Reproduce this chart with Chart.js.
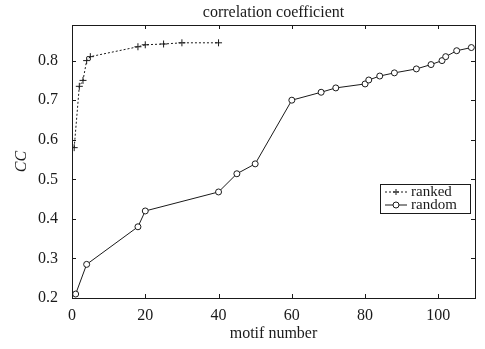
<!DOCTYPE html>
<html>
<head>
<meta charset="utf-8">
<script src="https://cdn.jsdelivr.net/npm/chart.js@4.4.1/dist/chart.umd.min.js"></script>
<style>
  html, body { margin: 0; padding: 0; background: #fff; }
  #wrap { width: 485px; height: 349px; }
</style>
</head>
<body>
<div id="wrap"><canvas id="ccChart" width="485" height="349"></canvas></div>
<script>
// data
const rankedX = [0.6, 2, 3, 4, 5, 18, 20, 25, 30, 40];
const rankedY = [0.58, 0.735, 0.75, 0.8, 0.81, 0.835, 0.84, 0.842, 0.845, 0.845];
const randomX = [1, 4, 18, 20, 40, 45, 50, 60, 68, 72, 80, 81, 84, 88, 94, 98, 101, 102, 105, 109];
const randomY = [0.21, 0.285, 0.38, 0.42, 0.468, 0.514, 0.539, 0.7, 0.72, 0.731, 0.741, 0.751,
  0.761, 0.769, 0.779, 0.79, 0.8, 0.81, 0.825, 0.833];
const xTicks = [0, 20, 40, 60, 80, 100];
const yTicks = [0.2, 0.3, 0.4, 0.5, 0.6, 0.7, 0.8];

const serif = "'Liberation Serif', 'DejaVu Serif', serif";
const ink = "#1a1a1a";

function toPoints(xs, ys) {
  return xs.map((x, i) => ({ x: x, y: ys[i] }));
}

// matlab style box, inward ticks, title and legend
const framePlugin = {
  id: "frame",
  afterDraw(chart) {
    const { ctx, chartArea: a } = chart;
    const xs = chart.scales.x;
    const ys = chart.scales.y;
    ctx.save();
    ctx.strokeStyle = ink;
    ctx.lineWidth = 1;
    ctx.strokeRect(a.left + 0.5, a.top + 0.5, a.right - a.left, a.bottom - a.top);
    ctx.beginPath();
    xTicks.forEach((v) => {
      const px = Math.round(xs.getPixelForValue(v)) + 0.5;
      ctx.moveTo(px, a.bottom); ctx.lineTo(px, a.bottom - 4);
      ctx.moveTo(px, a.top); ctx.lineTo(px, a.top + 4);
    });
    yTicks.forEach((v) => {
      const py = Math.round(ys.getPixelForValue(v)) + 0.5;
      ctx.moveTo(a.left, py); ctx.lineTo(a.left + 4, py);
      ctx.moveTo(a.right, py); ctx.lineTo(a.right - 4, py);
    });
    ctx.stroke();

    // title over the plot area
    ctx.fillStyle = ink;
    ctx.font = "16px " + serif;
    ctx.textAlign = "center";
    ctx.textBaseline = "alphabetic";
    ctx.fillText("correlation coefficient", (a.left + a.right) / 2, 17);

    // legend box
    const lx = 380, ly = 184, lw = 90, lh = 29;
    ctx.fillStyle = "#fff";
    ctx.fillRect(lx, ly, lw, lh);
    ctx.strokeRect(lx + 0.5, ly + 0.5, lw, lh);
    ctx.font = "15px " + serif;
    ctx.textAlign = "left";
    ctx.textBaseline = "middle";
    chart.data.datasets.forEach((ds, i) => {
      const cy = ly + 8 + i * 13;
      ctx.beginPath();
      ctx.setLineDash(ds.borderDash || []);
      ctx.moveTo(lx + 5, cy); ctx.lineTo(lx + 27, cy);
      ctx.stroke();
      ctx.setLineDash([]);
      ctx.beginPath();
      if (ds.pointStyle === "cross") {
        ctx.moveTo(lx + 16, cy - 3); ctx.lineTo(lx + 16, cy + 3);
        ctx.moveTo(lx + 13, cy); ctx.lineTo(lx + 19, cy);
      } else {
        ctx.arc(lx + 16, cy, 3, 0, Math.PI * 2);
        ctx.fillStyle = "#fff";
        ctx.fill();
      }
      ctx.stroke();
      ctx.fillStyle = ink;
      ctx.fillText(ds.label, lx + 31, cy);
    });
    ctx.restore();
  },
};

const ctx = document.getElementById("ccChart").getContext("2d");
let ccChart = new Chart(ctx, {
  type: "scatter",
  data: {
    datasets: [
      {
        label: "ranked",
        data: toPoints(rankedX, rankedY),
        showLine: true,
        borderColor: ink,
        backgroundColor: ink,
        borderWidth: 1,
        borderDash: [2, 2],
        pointStyle: "cross",
        pointRadius: 3.5,
        pointBorderWidth: 1,
      },
      {
        label: "random",
        data: toPoints(randomX, randomY),
        showLine: true,
        borderColor: ink,
        backgroundColor: "#fff",
        borderWidth: 1,
        pointStyle: "circle",
        pointRadius: 3,
        pointBorderWidth: 1,
      },
    ],
  },
  options: {
    responsive: false,
    animation: false,
    layout: { padding: { top: 25, right: 10, bottom: 0, left: 0 } },
    plugins: {
      legend: { display: false },
      title: { display: false },
      tooltip: { enabled: false },
    },
    scales: {
      x: {
        type: "linear",
        min: 0,
        max: 110,
        grid: { display: false },
        border: { display: false },
        afterBuildTicks(scale) {
          scale.ticks = xTicks.map((v) => ({ value: v }));
        },
        afterFit(scale) { scale.height = 51; },
        ticks: {
          color: ink,
          font: { family: serif, size: 16 },
          padding: 0,
          maxRotation: 0,
        },
        title: {
          display: true,
          text: "motif number",
          color: ink,
          font: { family: serif, size: 16 },
          padding: { top: 0, bottom: 6 },
        },
      },
      y: {
        type: "linear",
        min: 0.2,
        max: 0.89,
        grid: { display: false },
        border: { display: false },
        afterBuildTicks(scale) {
          scale.ticks = yTicks.map((v) => ({ value: v }));
        },
        afterFit(scale) { scale.width = 72; },
        ticks: {
          color: ink,
          font: { family: serif, size: 16 },
          padding: 6,
          callback: (v) => v.toFixed(1),
        },
        title: {
          display: true,
          text: "CC",
          color: ink,
          font: { family: serif, size: 16, style: "italic" },
          padding: { top: 12, bottom: 0 },
        },
      },
    },
  },
  plugins: [framePlugin],
});
</script>
</body>
</html>
